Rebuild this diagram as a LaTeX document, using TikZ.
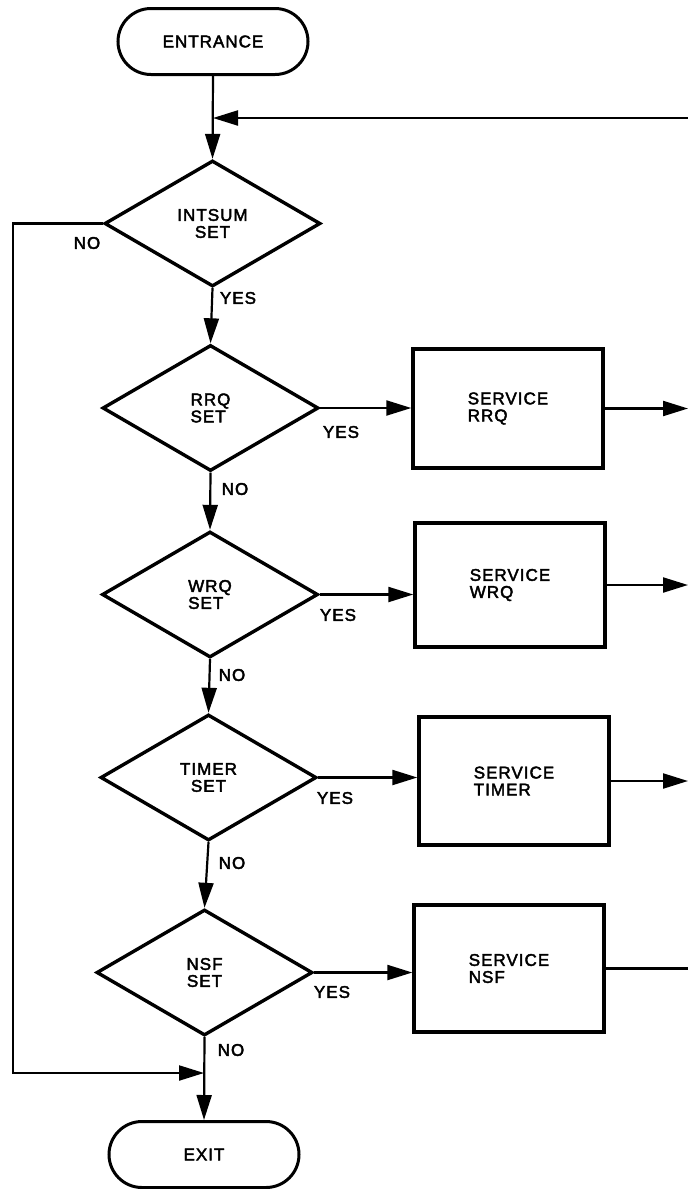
\documentclass[tikz,border=0pt]{standalone}
\usepackage{fontspec}
\newfontfamily\fcfont[LetterSpace=6,FakeBold=2.5]{Liberation Sans}
\usetikzlibrary{shapes.geometric,arrows.meta}
\begin{document}
\begin{tikzpicture}[x=1pt,y=-1pt,
  every node/.style={font=\fcfont\fontsize{17}{17}\selectfont},
  term/.style={draw,line width=3pt,minimum width=190pt,minimum height=66pt,rounded corners=33pt,inner sep=0pt},
  dec/.style={draw,shape=diamond,line width=3.4pt,minimum width=216pt,minimum height=126pt,inner sep=0pt,align=center},
  proc/.style={draw,line width=3.4pt,minimum width=190pt,minimum height=124pt,inner sep=0pt,align=left},
  lbl/.style={inner sep=0pt},
  flow/.style={line width=2.2pt,-{Triangle[length=25pt,width=15pt]}},
  plain/.style={line width=2.2pt}]
\useasboundingbox (0,0) rectangle (688,1189);
% terminals
\node[term] (ent) at (213,41.5) {ENTRANCE};
\node[term] (exit) at (204,1154.5) {EXIT};
% decisions
\node[dec] (d0) at (212.5,223.5) {INTSUM\\SET};
\node[dec,align=left] (d1) at (210.5,408) {RRQ\\SET};
\node[dec,align=left] (d2) at (210,594.5) {WRQ\\SET};
\node[dec] (d3) at (208.5,777.5) {TIMER\\SET};
\node[dec] (d4) at (204.5,972.5) {NSF\\SET};
% processes
\node[proc,minimum height=119pt] (b1) at (508,408.5) {SERVICE\\RRQ};
\node[proc] (b2) at (510,585) {SERVICE\\WRQ};
\node[proc,minimum height=128pt] (b3) at (514,781) {SERVICE\\TIMER};
\node[proc,minimum height=127pt] (b4) at (509,968.5) {SERVICE\\NSF};
% labels
\node[lbl] (n0) at (87,243) {NO};
\node[lbl] (y0) at (238,298) {YES};
\node[lbl] (y1) at (341,432) {YES};
\node[lbl] (n1) at (235,489) {NO};
\node[lbl] (y2) at (338,615) {YES};
\node[lbl] (n2) at (232,675) {NO};
\node[lbl] (y3) at (335,798) {YES};
\node[lbl] (n3) at (232,863) {NO};
\node[lbl] (y4) at (332,992) {YES};
\node[lbl] (n4) at (231,1050) {NO};
% coordinates
\coordinate (edge) at (688,0);
\coordinate (ret) at (688,118);
\coordinate (lt) at (13,0);
\coordinate (lb) at (13,1073);
% main flow
\draw[flow] (ent.south) -- (d0.north);
\draw[flow] (ret) -- (ret -| ent.south);
\draw[flow] (d0.south) -- (d1.north);
\draw[flow] (d1.south) -- (d2.north);
\draw[flow] (d2.south) -- (d3.north);
\draw[flow] (d3.south) -- (d4.north);
\draw[flow] (d4.south) -- (exit.north);
\draw[flow] (d0.west) -- (d0.west -| lt) -- (lb) -- (lb -| exit.north);
% yes branches
\draw[flow] (d1.east) -- (d1.east -| b1.west);
\draw[flow] (d2.east) -- (d2.east -| b2.west);
\draw[flow] (d3.east) -- (d3.east -| b3.west);
\draw[flow] (d4.east) -- (d4.east -| b4.west);
% outputs
\draw[flow] (b1.east) -- (b1.east -| edge);
\draw[flow] (b2.east) -- (b2.east -| edge);
\draw[flow] (b3.east) -- (b3.east -| edge);
\draw[plain] (b4.east) -- (b4.east -| edge);
\end{tikzpicture}
\end{document}
